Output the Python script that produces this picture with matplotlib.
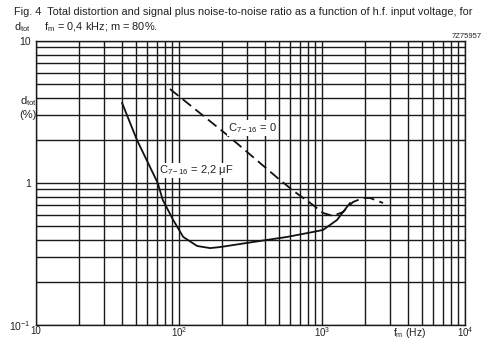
import numpy as np
import matplotlib
matplotlib.use("Agg")
import matplotlib.pyplot as plt

# solid curve: C7-16 = 2,2 uF
f_solid = [40, 50.8, 71, 77, 91, 107, 134, 165, 194, 329, 569, 865, 1016, 1273, 1403, 1571]
d_solid = [3.66, 2.01, 1.0, 0.76, 0.55, 0.417, 0.36, 0.348, 0.354, 0.384, 0.417, 0.452, 0.467, 0.549, 0.625, 0.723]

# dashed curve: C7-16 = 0
f_dash = [86.5, 217, 508, 647, 865, 1016, 1194, 1403, 1648, 1935, 2168, 2674]
d_dash = [4.59, 2.18, 1.05, 0.864, 0.70, 0.615, 0.586, 0.625, 0.735, 0.784, 0.784, 0.723]

xticks = [10, 100, 1000, 10000]
xlabels = ["10", "$10^2$", "$10^3$", "$10^4$"]
yticks = [0.1, 1, 10]
ylabels = ["$10^{-1}$", "1", "10"]

plt.rcParams["font.family"] = ["Liberation Sans", "DejaVu Sans"]
plt.rcParams["mathtext.fontset"] = "custom"
plt.rcParams["mathtext.rm"] = "Liberation Sans"
plt.rcParams["mathtext.it"] = "Liberation Sans"

fig = plt.figure(figsize=(4.84, 3.39), dpi=100)
ax = fig.add_axes([36 / 484, 14 / 339, 429 / 484, 284 / 339])
ax.set_xscale("log"); ax.set_yscale("log")
ax.set_xlim(10, 1e4); ax.set_ylim(0.1, 10)

ax.grid(True, which="both", color="#1a1a1a", lw=1.0)
ax.set_axisbelow(True)
for s in ax.spines.values():
    s.set_color("#1a1a1a"); s.set_linewidth(1.0)

ax.plot(f_solid, d_solid, color="#111111", lw=1.3)
ax.plot(f_dash, d_dash, color="#111111", lw=1.3, ls=(0, (6, 3)))

ax.set_xticks(xticks, xlabels)
ax.set_yticks(yticks, ylabels)
ax.xaxis.set_minor_formatter(matplotlib.ticker.NullFormatter())
ax.yaxis.set_minor_formatter(matplotlib.ticker.NullFormatter())
ax.tick_params(which="both", length=0, labelsize=7.5, colors="#222222")
ax.tick_params(axis="x", pad=0.5, labelsize=7)

ax.text(220, 2.44, "C$_{7-16}$ = 0", fontsize=8, color="#222222", va="center",
        bbox=dict(facecolor="white", edgecolor="none", pad=0.5))
ax.text(73, 1.23, "C$_{7-16}$ = 2,2 $\\mu$F", fontsize=8, color="#222222", va="center",
        bbox=dict(facecolor="white", edgecolor="none", pad=0.5))

fig.text(14 / 484, 1 - 12 / 339,
         "Fig. 4  Total distortion and signal plus noise-to-noise ratio as a function of h.f. input voltage, for",
         fontsize=7.9, color="#222222", va="center")
fig.text(14 / 484, 1 - 27 / 339, "d$_{\\rm tot}$     f$_{\\rm m}$ = 0,4 kHz; m = 80%.",
         fontsize=7.9, color="#222222", va="center")
fig.text(482 / 484, 1 - 37 / 339, "7Z75957", fontsize=5.5, color="#222222", ha="right", va="center")
fig.text(28 / 484, 1 - 101 / 339, "d$_{\\rm tot}$", fontsize=8, color="#222222", ha="center", va="center")
fig.text(28 / 484, 1 - 115 / 339, "(%)", fontsize=8, color="#222222", ha="center", va="center")
fig.text(410 / 484, 1 - 333 / 339, "f$_{\\rm m}$ (Hz)", fontsize=7.5, color="#222222", ha="center", va="center")

fig.savefig("out.png", dpi=100, facecolor="white")
